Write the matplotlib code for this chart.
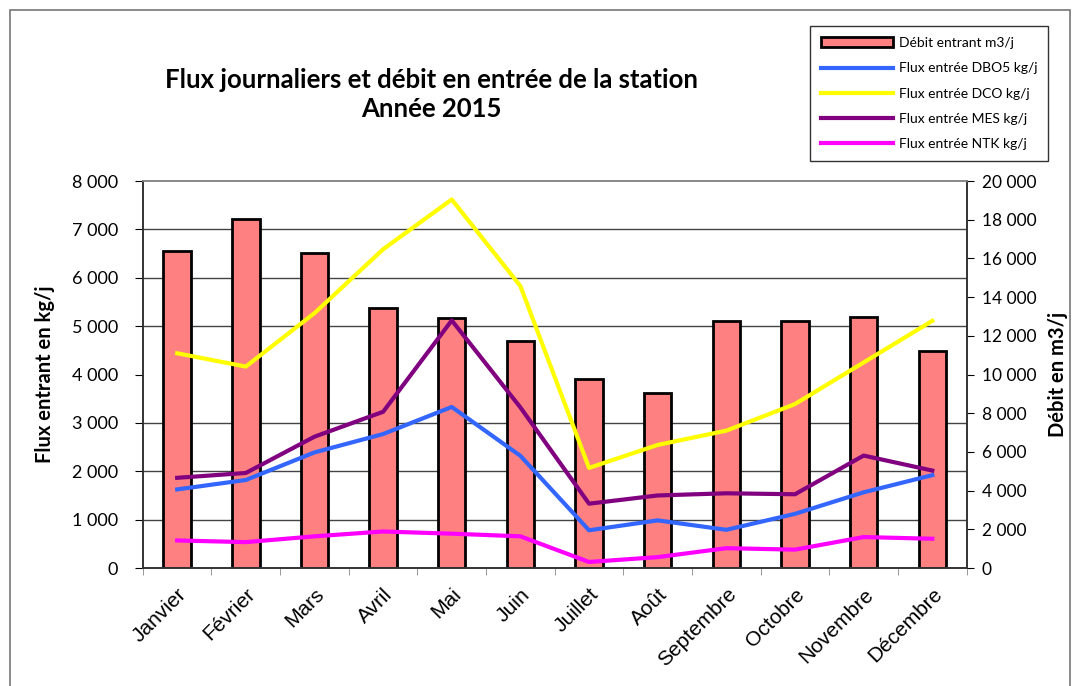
import numpy as np
import matplotlib
matplotlib.use("Agg")
import matplotlib.pyplot as plt
from matplotlib.ticker import FuncFormatter, MultipleLocator
from matplotlib.patches import Rectangle

# donnees
mois = ["Janvier", "Février", "Mars", "Avril", "Mai", "Juin", "Juillet",
        "Août", "Septembre", "Octobre", "Novembre", "Décembre"]
debit = [16400, 18050, 16300, 13450, 12920, 11720, 9780, 9040, 12780, 12780, 12960, 11240]
dbo5 = [1625, 1820, 2390, 2770, 3330, 2320, 780, 985, 790, 1120, 1565, 1920]
dco = [4440, 4165, 5270, 6590, 7620, 5830, 2070, 2545, 2840, 3390, 4250, 5110]
mes = [1865, 1965, 2715, 3230, 5120, 3320, 1330, 1500, 1545, 1525, 2325, 2015]
ntk = [570, 535, 655, 755, 710, 655, 125, 225, 410, 380, 640, 605]

plt.rcParams['font.family'] = ['Lato', 'DejaVu Sans']

def milliers(v, pos):
    return "{:,.0f}".format(v).replace(",", " ")

fig = plt.figure(figsize=(10.74, 6.86), dpi=100)
# cadre gris autour de la figure
fig.patches.append(Rectangle((0.009, -0.01), 0.987, 0.995, transform=fig.transFigure,
                             fill=False, edgecolor="#777777", lw=1.2))

ax = fig.add_axes([0.133, 0.172, 0.767, 0.564])
ax2 = ax.twinx()
x = np.arange(len(mois))

# limites des deux axes
ymax1, ymax2 = 8000, 20000
ax.yaxis.set_major_locator(MultipleLocator(1000))
ax2.yaxis.set_major_locator(MultipleLocator(2000))

# barres du debit sur l'axe de droite
ax2.bar(x, debit, width=0.4, color="#FF8080", edgecolor="black", lw=2, zorder=2,
        label="Débit entrant m3/j")
ax2.yaxis.set_major_formatter(FuncFormatter(milliers))
# quadrillage aligne sur l'axe de gauche, dessine derriere les barres
grille = np.arange(0, ymax1 + 1, 1000) * ymax2 / ymax1
ax2.set_yticks(grille, minor=True)
ax2.grid(axis="y", which="minor", color="#444444", lw=1, zorder=0)
ax2.grid(axis="y", which="major", visible=False)
ax2.set_axisbelow(True)
ax2.tick_params(axis="y", which="minor", length=0)
ax2.set_ylabel("Débit en m3/j", fontsize=14.5, fontweight="bold", labelpad=8)
ax2.tick_params(axis="y", which="major", labelsize=12.5, direction="out", length=5, pad=6)

# courbes des flux sur l'axe de gauche
ax.set_zorder(ax2.get_zorder() + 1)
ax.patch.set_visible(False)
ax.plot(x, dbo5, color="#3366FF", lw=3, label="Flux entrée DBO5 kg/j")
ax.plot(x, dco, color="#FFFF00", lw=3, label="Flux entrée DCO kg/j")
ax.plot(x, mes, color="#800080", lw=3, label="Flux entrée MES kg/j")
ax.plot(x, ntk, color="#FF00FF", lw=3, label="Flux entrée NTK kg/j")
ax.set_xlim(-0.5, len(mois) - 0.5)
ax.yaxis.set_major_formatter(FuncFormatter(milliers))
ax.tick_params(axis="y", labelsize=13, direction="out", length=6, pad=12)
ax.set_ylabel("Flux entrant en kg/j", fontsize=14.5, fontweight="bold", labelpad=12)

ax.set_ylim(0, ymax1)
ax2.set_ylim(0, ymax2)

ax.set_xticks(x)
ax.set_xticklabels(mois, rotation=45, ha="right", rotation_mode="anchor",
                   fontsize=15, family="Liberation Sans")
ax.set_xticks(np.arange(-0.5, len(mois), 1), minor=True)
ax.tick_params(axis="x", which="major", length=0, pad=12)
ax.tick_params(axis="x", which="minor", length=5, direction="out", color="#888888")

for a in (ax, ax2):
    a.spines["top"].set_color("#888888")
    a.spines["left"].set_color("#333333")
    a.spines["bottom"].set_color("#333333")
    a.spines["right"].set_color("#333333")
    for s in a.spines.values():
        s.set_linewidth(1.2)

fig.text(0.402, 0.862, "Flux journaliers et débit en entrée de la station\nAnnée 2015",
         ha="center", va="center", fontsize=18.5, fontweight="bold", linespacing=1.25)

h1, l1 = ax2.get_legend_handles_labels()
h2, l2 = ax.get_legend_handles_labels()
leg = fig.legend(h1 + h2, l1 + l2, loc="upper left", bbox_to_anchor=(0.754, 0.962),
                 fontsize=10, frameon=True, fancybox=False, edgecolor="black",
                 labelspacing=0.95, handlelength=5.2, borderpad=0.8, handletextpad=0.4,
                 borderaxespad=0)
leg.get_frame().set_linewidth(1)

fig.savefig("out.png", dpi=100)
